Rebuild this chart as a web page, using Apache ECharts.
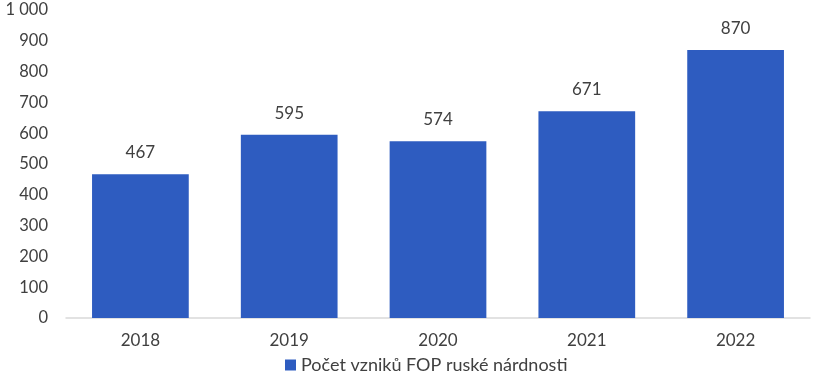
<!DOCTYPE html>
<html><head><meta charset="utf-8">
<script src="https://cdn.jsdelivr.net/npm/echarts@6/dist/echarts.min.js"></script>
<style>html,body{margin:0;padding:0;background:#fff}#c{width:821px;height:382px}</style>
</head><body><div id="c"></div>
<script>
const categories = ['2018', '2019', '2020', '2021', '2022'];
const values = [467, 595, 574, 671, 870];
const seriesName = 'Počet vzniků FOP ruské nárdnosti';

const chart = echarts.init(document.getElementById('c'));
const font = 'Lato, "Open Sans", sans-serif';
chart.setOption({
  animation: false,
  textStyle: { fontFamily: font },
  grid: { left: 66, right: 11, top: 10, bottom: 64 },
  xAxis: {
    type: 'category', data: categories,
    axisLine: { lineStyle: { color: '#D9D9D9', width: 1.5 } },
    axisTick: { show: false },
    axisLabel: { color: '#404040', fontSize: 17, margin: 14, fontFamily: font }
  },
  yAxis: {
    type: 'value', min: 0, max: 1000, interval: 100,
    splitLine: { show: false },
    axisLine: { show: false }, axisTick: { show: false },
    axisLabel: { color: '#404040', fontSize: 16.5, margin: 18, fontFamily: font,
      formatter: v => v >= 1000 ? String(v).replace(/\B(?=(\d{3})+(?!\d))/g, ' ') : String(v) }
  },
  legend: {
    bottom: 3, left: 280, icon: 'rect', itemWidth: 11, itemHeight: 11, itemGap: 6,
    textStyle: { color: '#404040', fontSize: 18, fontFamily: font },
    data: [seriesName]
  },
  series: [{
    name: seriesName, type: 'bar', data: values, barWidth: '65%',
    itemStyle: { color: '#2E5CC0' },
    label: { show: true, position: 'top', distance: 13, color: '#404040', fontSize: 17, fontFamily: font }
  }]
});
</script></body></html>
